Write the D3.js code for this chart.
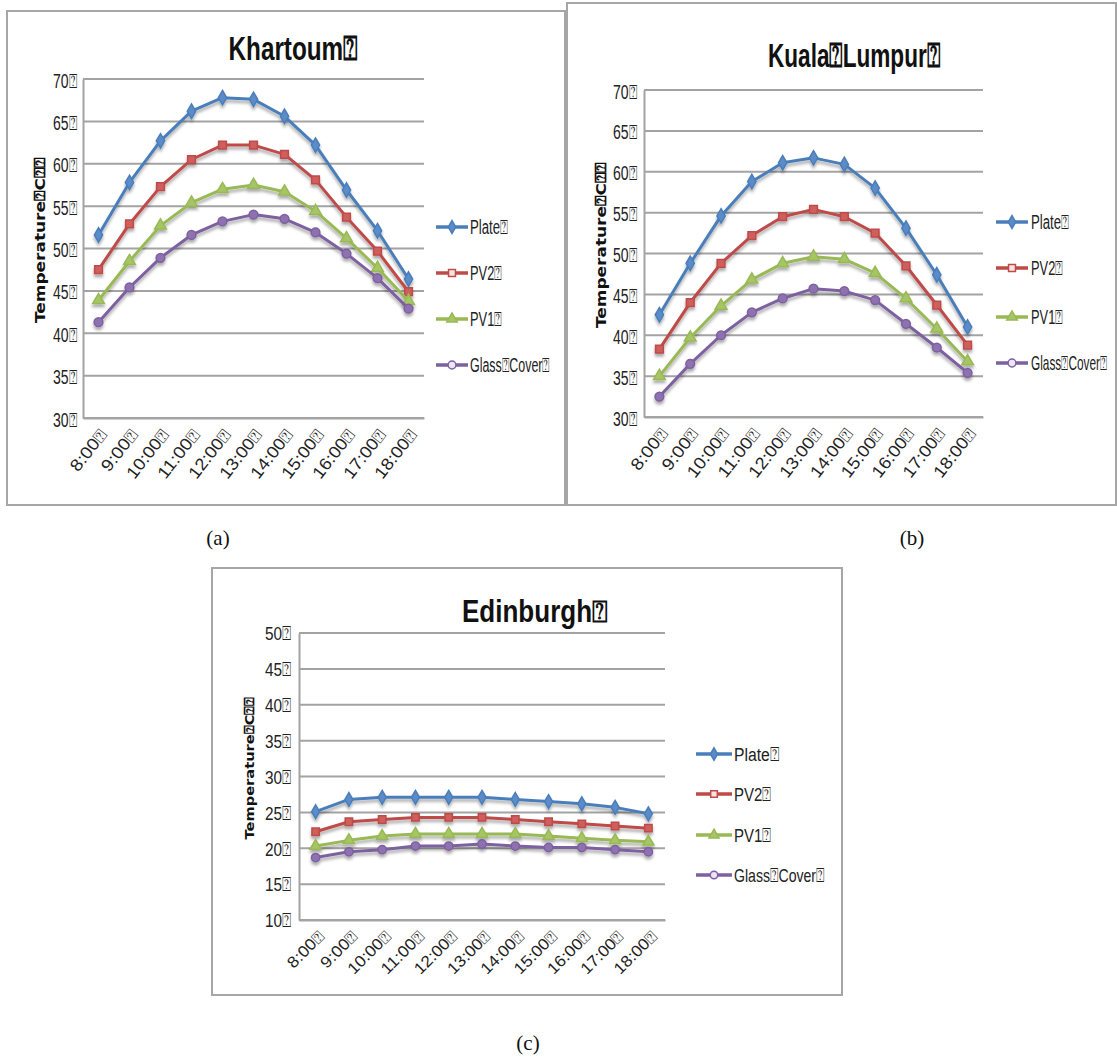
<!DOCTYPE html>
<html>
<head>
<meta charset="utf-8">
<script src="https://cdn.jsdelivr.net/npm/d3@7"></script>
<style>
  html, body { margin: 0; padding: 0; background: #fff; }
  svg { display: block; }
</style>
</head>
<body>
<svg id="chart" width="1117" height="1057"></svg>
<script>
// ---- data ----
const BOX = "\u2370";
const hours = ["8:00", "9:00", "10:00", "11:00", "12:00", "13:00", "14:00", "15:00", "16:00", "17:00", "18:00"];
const seriesNames = ["Plate", "PV2", "PV1", "Glass" + BOX + "Cover"];
const yTitle = "Temperature" + BOX + "C" + BOX + BOX;

const khartoumPlate = [51.6, 57.8, 62.7, 66.2, 67.8, 67.6, 65.6, 62.2, 56.9, 52.1, 46.4];
const khartoumPV2   = [47.5, 52.9, 57.3, 60.5, 62.2, 62.2, 61.1, 58.1, 53.7, 49.7, 44.9];
const khartoumPV1   = [43.9, 48.5, 52.7, 55.4, 57.0, 57.5, 56.7, 54.4, 51.2, 47.7, 43.8];
const khartoumGlass = [41.3, 45.4, 48.9, 51.6, 53.2, 54.0, 53.5, 51.9, 49.4, 46.5, 42.9];

const kualaPlate = [42.5, 48.8, 54.6, 58.8, 61.1, 61.7, 60.9, 58.0, 53.1, 47.4, 41.0];
const kualaPV2   = [38.3, 44.0, 48.8, 52.2, 54.5, 55.4, 54.5, 52.5, 48.5, 43.7, 38.8];
const kualaPV1   = [35.0, 39.7, 43.6, 46.8, 48.8, 49.6, 49.3, 47.6, 44.5, 40.8, 36.8];
const kualaGlass = [32.5, 36.5, 40.0, 42.8, 44.5, 45.7, 45.4, 44.3, 41.4, 38.5, 35.4];

const edinPlate = [25.1, 26.8, 27.1, 27.1, 27.1, 27.1, 26.8, 26.5, 26.2, 25.7, 24.8];
const edinPV2   = [22.3, 23.7, 24.0, 24.3, 24.3, 24.3, 24.0, 23.7, 23.4, 23.1, 22.8];
const edinPV1   = [20.3, 21.1, 21.7, 22.0, 22.0, 22.0, 22.0, 21.7, 21.4, 21.1, 20.9];
const edinGlass = [18.7, 19.5, 19.8, 20.3, 20.3, 20.6, 20.3, 20.1, 20.1, 19.8, 19.5];

const khartoumTicks = [30, 35, 40, 45, 50, 55, 60, 65, 70];
const kualaTicks = [30, 35, 40, 45, 50, 55, 60, 65, 70];
const edinTicks = [10, 15, 20, 25, 30, 35, 40, 45, 50];

const colors = ["#4a7ebb", "#be4b48", "#98b954", "#7d60a0"];
const plotFills = ["#5b8cc8", "#cf5f5c", "#a6c665", "#8e72b0"];
const legendFills = ["#5b8cc8", "#f4e4e4", "#a6c665", "#ece6f3"];
const symbols = [d3.symbolDiamond, d3.symbolSquare, d3.symbolTriangle, d3.symbolCircle];

// ---- drawing ----
const svg = d3.select("#chart");
const defs = svg.append("defs");
const f = defs.append("filter").attr("id", "shadow").attr("x", "-20%").attr("y", "-20%").attr("width", "140%").attr("height", "160%");
f.append("feDropShadow").attr("dx", 0).attr("dy", 3).attr("stdDeviation", 1.8)
  .attr("flood-color", "#000").attr("flood-opacity", 0.33);

const narrowFont = "'Liberation Sans', Arial, sans-serif";

function fitLen(sel, lenFn) {
  sel.attr("textLength", lenFn).attr("lengthAdjust", "spacingAndGlyphs");
}

function drawChart(cfg) {
  const g = svg.append("g");
  // panel border
  g.append("rect")
    .attr("x", cfg.panel[0]).attr("y", cfg.panel[1])
    .attr("width", cfg.panel[2] - cfg.panel[0]).attr("height", cfg.panel[3] - cfg.panel[1])
    .attr("fill", "#fff").attr("stroke", "#a6a6a6").attr("stroke-width", 2);

  const x = d3.scaleBand().domain(hours).range([cfg.plot.left, cfg.plot.right]);
  const y = d3.scaleLinear().domain(cfg.yDomain).range([cfg.plot.bottom, cfg.plot.top]);
  const cx = d => x(d) + x.bandwidth() / 2;

  // gridlines
  g.append("g").selectAll("line").data(cfg.ticks).join("line")
    .attr("x1", cfg.plot.left).attr("x2", cfg.plot.right)
    .attr("y1", d => y(d)).attr("y2", d => y(d))
    .attr("stroke", "#a3a3a3").attr("stroke-width", 2);

  // y axis
  const yAxis = d3.axisLeft(y).tickValues(cfg.ticks).tickSize(0).tickPadding(cfg.tickPad)
    .tickFormat(d => d + BOX);
  const ya = g.append("g").attr("transform", `translate(${cfg.plot.left},0)`).call(yAxis);
  ya.attr("font-size", null).attr("font-family", null);
  ya.select(".domain").attr("stroke", "#a3a3a3").attr("stroke-width", 2);
  ya.selectAll("text").style("font-family", narrowFont).style("font-size", cfg.tickSize + "px")
    .attr("fill", "#222").attr("dy", cfg.tickDy).call(fitLen, cfg.tickLen);

  // x axis
  const xAxis = d3.axisBottom(x).tickSize(0).tickFormat(d => d + BOX);
  const xa = g.append("g").attr("transform", `translate(0,${cfg.plot.bottom})`).call(xAxis);
  xa.attr("font-size", null).attr("font-family", null);
  xa.select(".domain").attr("stroke", "#a3a3a3").attr("stroke-width", 2);
  xa.selectAll("text")
    .style("font-family", narrowFont).style("font-size", cfg.xTickSize + "px").attr("fill", "#222")
    .attr("text-anchor", "end").attr("dy", null).attr("y", null)
    .attr("transform", `translate(${cfg.xLab[0]},${cfg.xLab[1]}) rotate(${cfg.xAngle})`)
    .call(fitLen, d => cfg.xLen[0] * d.replace(":", "").length + cfg.xLen[1]);

  // title
  g.append("text").attr("x", cfg.title.x).attr("y", cfg.title.y)
    .attr("text-anchor", "middle").style("font-family", narrowFont).attr("font-weight", "bold")
    .style("font-size", cfg.title.size + "px").attr("fill", "#111").text(cfg.title.text)
    .call(fitLen, cfg.title.len);

  // y title
  g.append("text").attr("transform", `translate(${cfg.yTitle.x},${cfg.yTitle.y}) rotate(-90)`)
    .attr("text-anchor", "middle").style("font-family", "'DejaVu Sans', Verdana, sans-serif")
    .attr("font-weight", "bold").style("font-size", cfg.yTitle.size + "px").attr("fill", "#111")
    .text(yTitle).call(fitLen, cfg.yTitle.len);

  // series
  const line = d3.line().x((d, i) => cx(hours[i])).y(d => y(d));
  cfg.series.forEach((vals, si) => {
    const sg = g.append("g").attr("filter", "url(#shadow)");
    sg.append("path").datum(vals).attr("d", line).attr("fill", "none")
      .attr("stroke", colors[si]).attr("stroke-width", 3).attr("stroke-linejoin", "round");
    sg.selectAll("path.m").data(vals).join("path").attr("class", "m")
      .attr("transform", (d, i) => `translate(${cx(hours[i])},${y(d)})`)
      .attr("d", d3.symbol().type(symbols[si]).size(cfg.markerSize))
      .attr("fill", plotFills[si]).attr("stroke", colors[si]).attr("stroke-width", 1.5);
  });

  // legend
  seriesNames.forEach((name, si) => {
    const ly = cfg.legend.ys[si];
    const lg = g.append("g");
    lg.append("line").attr("x1", cfg.legend.x0).attr("x2", cfg.legend.x1)
      .attr("y1", ly).attr("y2", ly).attr("stroke", colors[si]).attr("stroke-width", 3.5);
    lg.append("path").attr("transform", `translate(${(cfg.legend.x0 + cfg.legend.x1) / 2},${ly})`)
      .attr("d", d3.symbol().type(symbols[si]).size(cfg.markerSize * 0.8))
      .attr("fill", legendFills[si]).attr("stroke", colors[si]).attr("stroke-width", 1.5);
    const t = lg.append("text").attr("x", 0).attr("y", 0).attr("dy", "0.36em")
      .style("font-family", narrowFont).style("font-size", cfg.legend.size + "px").attr("fill", "#222")
      .text(name + BOX);
    const natural = t.node().getComputedTextLength() || cfg.legend.lens[si];
    const sx = cfg.legend.lens[si] / natural;
    t.attr("transform", `translate(${cfg.legend.tx},${ly}) scale(${sx},1)`);
  });

  // caption
  svg.append("text").attr("x", cfg.caption.x).attr("y", cfg.caption.y)
    .attr("text-anchor", "middle").style("font-family", "'Liberation Serif', 'Times New Roman', serif")
    .style("font-size", "21px").attr("fill", "#111").text(cfg.caption.text);
}

drawChart({
  panel: [7, 11, 565, 505],
  plot: { left: 83, right: 424, top: 79, bottom: 418 },
  yDomain: [30, 70], ticks: khartoumTicks, tickPad: 6, tickSize: 20, tickDy: "0.4em", tickLen: 24,
  xTickSize: 17, xLab: [9, 17], xAngle: -52, xLen: [9, 21],
  title: { x: 293, y: 60, size: 34, len: 129, text: "Khartoum" + BOX },
  yTitle: { x: 45, y: 240, size: 14.5, len: 166 },
  series: [khartoumPlate, khartoumPV2, khartoumPV1, khartoumGlass],
  markerSize: 60,
  legend: { x0: 436, x1: 468, tx: 470, ys: [227, 273, 319, 365], size: 20, lens: [38, 32, 32, 80] },
  caption: { x: 218, y: 545, text: "(a)" }
});

drawChart({
  panel: [567, 3, 1116, 505],
  plot: { left: 644, right: 983, top: 90, bottom: 417 },
  yDomain: [30, 70], ticks: kualaTicks, tickPad: 7, tickSize: 20, tickDy: "0.4em", tickLen: 24,
  xTickSize: 17, xLab: [9, 17], xAngle: -52, xLen: [9, 21],
  title: { x: 854, y: 67, size: 34, len: 172, text: "Kuala" + BOX + "Lumpur" + BOX },
  yTitle: { x: 606, y: 245, size: 14.5, len: 166 },
  series: [kualaPlate, kualaPV2, kualaPV1, kualaGlass],
  markerSize: 60,
  legend: { x0: 996, x1: 1028, tx: 1031, ys: [222, 268, 317, 363], size: 20, lens: [38, 32, 32, 76] },
  caption: { x: 912, y: 545, text: "(b)" }
});

drawChart({
  panel: [212, 568, 842, 995],
  plot: { left: 299, right: 665, top: 633, bottom: 920 },
  yDomain: [10, 50], ticks: edinTicks, tickPad: 8, tickSize: 19, tickDy: "0.36em", tickLen: 26,
  xTickSize: 16, xLab: [10, 17], xAngle: -45, xLen: [8.5, 20],
  title: { x: 535, y: 622, size: 31, len: 146, text: "Edinburgh" + BOX },
  yTitle: { x: 254, y: 768, size: 13, len: 143 },
  series: [edinPlate, edinPV2, edinPV1, edinGlass],
  markerSize: 55,
  legend: { x0: 696, x1: 732, tx: 734, ys: [754, 794, 835, 875], size: 19, lens: [45, 37, 37, 90] },
  caption: { x: 528, y: 1050, text: "(c)" }
});
</script>
</body>
</html>
